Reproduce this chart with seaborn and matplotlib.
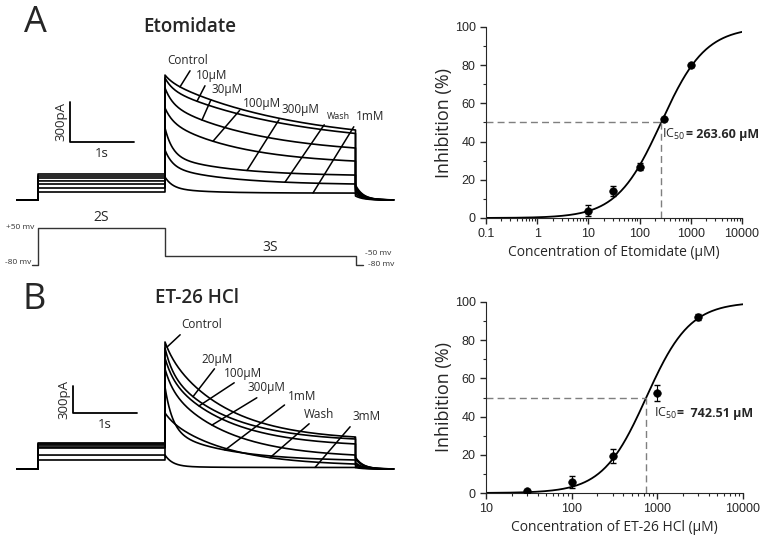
import numpy as np
import pandas as pd
import matplotlib
matplotlib.use("Agg")
import matplotlib.pyplot as plt
import seaborn as sns
from matplotlib.ticker import FixedLocator, FixedFormatter, NullFormatter, MultipleLocator, LogLocator

sns.set_style("ticks")
plt.rcParams['font.family'] = ['Open Sans', 'DejaVu Sans']
plt.rcParams['mathtext.default'] = 'regular'

# ---- patch-clamp sweeps (pA) ----
# A: etomidate
eto_labels = ["Control", "10µM", "30µM", "100µM", "300µM", "Wash", "1mM"]
eto_peak = [937, 915, 840, 690, 540, 375, 172]
eto_end = [525, 499, 390, 292, 187, 120, 52]
eto_fast = [0.10, 0.19, 0.26, 0.24, 0.59, 0.50, 0.70]
eto_tau = [2.0, 2.0, 1.5, 1.2, 1.0, 1.0, 0.6]
eto_pre = [195, 180, 165, 143, 120, 90, 60]
eto_tail = [112, 100, 90, 75, 60, 45, 30]

# B: ET-26 HCl
et26_labels = ["Control", "20µM", "100µM", "300µM", "1mM", "Wash", "3mM"]
et26_peak = [1410, 1343, 1232, 1110, 910, 622, 155]
et26_end = [355, 333, 278, 155, 100, 55, 17]
et26_fast = [0.10, 0.25, 0.20, 0.20, 0.60, 0.10, 0.90]
et26_tau = [0.95, 0.95, 0.95, 0.95, 0.95, 0.95, 0.5]
et26_pre = [289, 278, 266, 244, 233, 155, 100]
et26_tail = [130, 120, 110, 70, 50, 30, 15]

# voltage protocol
prot_t = [-0.1, 0, 2, 5, 5.12]
prot_mv = [-80, 50, -50, -80, -80]

# ---- dose response ----
eto_conc = [10, 30, 100, 300, 1000]
eto_inh = [3.8, 14.1, 26.9, 51.7, 79.9]
eto_err = [3.0, 2.5, 1.8, 0.8, 0.8]
eto_ic50 = 263.60
eto_hill = 1.0

et26_conc = [30, 100, 300, 1000, 3000]
et26_inh = [0.9, 5.8, 19.3, 52.5, 92.0]
et26_err = [0.5, 3.2, 3.5, 4.2, 1.5]
et26_ic50 = 742.51
et26_hill = 1.7

W, H = 765, 535
PX_S = 63.5  # pixels per second
T0 = 38      # pixel of t = 0
T_PULSE = 3.0
TAU_FAST = 0.12


def rect(x0, y0, x1, y1):
    return [x0 / W, 1 - y1 / H, (x1 - x0) / W, (y1 - y0) / H]


def norm_decay(t, tau):
    return (np.exp(-t / tau) - np.exp(-T_PULSE / tau)) / (1 - np.exp(-T_PULSE / tau))


def pulse_current(t, peak, end, fast, tau):
    return end + (peak - end) * (fast * norm_decay(t, TAU_FAST) + (1 - fast) * norm_decay(t, tau))


def sweep(peak, end, fast, tau, pre, tail):
    tp = np.linspace(0, T_PULSE, 300)
    tt = np.linspace(0, 0.6, 60)
    t = np.concatenate([[-0.33, 0.0, 0.0, 2.0], tp + 2, tt + 5])
    i = np.concatenate([[0, 0, pre, pre], pulse_current(tp, peak, end, fast, tau),
                        tail * np.exp(-tt / 0.12)])
    return t, i


fig = plt.figure(figsize=(7.65, 5.35), dpi=100)


def trace_panel(ax, labels, peak, end, fast, tau, pre, tail, base_px, pa_px,
                lab_px, pt_px, relp, small, bar_px):
    for k in range(len(labels)):
        t, i = sweep(peak[k], end[k], fast[k], tau[k], pre[k], tail[k])
        sns.lineplot(x=t, y=i, ax=ax, color="black", lw=1.2, estimator=None, sort=False)
    for k, lab in enumerate(labels):
        tx = (lab_px[k][0] - T0) / PX_S
        ty = (base_px - lab_px[k][1]) * pa_px
        tpt = (pt_px[k] - T0) / PX_S
        ipt = pulse_current(max(tpt - 2, 0.0), peak[k], end[k], fast[k], tau[k])
        ax.annotate(lab, xy=(tpt, ipt), xytext=(tx, ty), ha="center", va="center",
                    fontsize=6.5 if lab in small else 8.5,
                    arrowprops=dict(arrowstyle="-", lw=1.1, color="black",
                                    shrinkA=0, shrinkB=0, relpos=relp[k]))
    # scale bars
    bx = (bar_px[0] - T0) / PX_S
    by = (base_px - bar_px[1]) * pa_px
    ax.plot([bx, bx, bx + 1], [by + 300, by, by], color="black", lw=1.3)
    ax.text(bx - 0.04, by + 150, "300pA", rotation=90, ha="right", va="center", fontsize=9.5)
    ax.text(bx + 0.5, by - 35 * pa_px / 7.5, "1s", ha="center", va="top", fontsize=9.5)
    ax.set_xlim(-T0 / PX_S, (400 - T0) / PX_S)
    ax.axis("off")


# A traces
axA = fig.add_axes(rect(0, 40, 400, 215))
axA.set_ylim(-(215 - 200) * 7.5, (200 - 40) * 7.5)
trace_panel(axA, eto_labels, eto_peak, eto_end, eto_fast, eto_tau, eto_pre, eto_tail,
            200, 7.5,
            [(188, 61), (212, 76), (227, 90), (262, 104), (300, 110), (338, 117), (370, 117)],
            [180, 197, 202, 213, 247, 285, 313],
            [(0.6, 0), (0.33, 0), (0.03, 0), (0, 0.3), (0, 0), (0, 0), (0, 0)],
            ["Wash"], (70, 142))

# A protocol
axP = fig.add_axes(rect(0, 215, 400, 275))
sns.lineplot(x=prot_t, y=prot_mv, ax=axP, color="#333333", lw=1.0,
             drawstyle="steps-post", estimator=None, sort=False)
axP.set_xlim(-T0 / PX_S, (400 - T0) / PX_S)
axP.set_ylim(-80 - 10 * 130 / 37, -80 + 50 * 130 / 37)
axP.axis("off")
axP.text(-0.28, 50, "+50 mv", fontsize=6, ha="center", va="center", color="#333333")
axP.text(-0.31, -72, "-80 mv", fontsize=6, ha="center", va="center", color="#333333")
axP.text(1.0, 60, "2S", fontsize=10, ha="center", va="bottom")
axP.text(3.65, -20, "3S", fontsize=10, ha="center", va="center")
axP.text(5.36, -38, "-50 mv", fontsize=6, ha="center", va="center", color="#333333")
axP.text(5.4, -80, "-80 mv", fontsize=6, ha="center", va="center", color="#333333")

# B traces
axB = fig.add_axes(rect(0, 310, 400, 480))
axB.set_ylim(-(480 - 469) * 11.1, (469 - 310) * 11.1)
trace_panel(axB, et26_labels, et26_peak, et26_end, et26_fast, et26_tau, et26_pre, et26_tail,
            469, 11.1,
            [(202, 325), (217, 359), (243, 373), (266, 388), (302, 396), (319, 414), (367, 417)],
            [167, 193, 199, 212, 225, 270, 315],
            [(0.05, 0), (0.5, 0), (0.4, 0), (0.4, 0), (0, 0), (0.3, 0), (0, 0)],
            [], (73, 413))

fig.text(35 / W, 1 - 23 / H, "A", fontsize=26, ha="center", va="center")
fig.text(190 / W, 1 - 27 / H, "Etomidate", fontsize=13.5, weight="semibold", ha="center", va="center")
fig.text(34 / W, 1 - 300 / H, "B", fontsize=26, ha="center", va="center")
fig.text(197 / W, 1 - 298 / H, "ET-26 HCl", fontsize=13.5, weight="semibold", ha="center", va="center")


def dose_panel(ax, conc, inh, err, ic50, hill, xmin, xlabel, ic_text, txt_fac, txt_y, off):
    xs = np.logspace(np.log10(xmin), 4, 300)
    fit = 100 / (1 + (ic50 / xs) ** hill)
    sns.lineplot(x=xs, y=fit, ax=ax, color="black", lw=1.3, estimator=None)
    ax.errorbar(conc, inh, yerr=err, fmt="none", ecolor="black", elinewidth=0.8, capsize=2)
    sns.scatterplot(x=conc, y=inh, ax=ax, color="black", s=30, edgecolor="black", zorder=3)
    ax.hlines(50, xmin, ic50, colors="#7f7f7f", linestyles=(0, (5, 3)), lw=1)
    ax.vlines(ic50, 0, 50, colors="#7f7f7f", linestyles=(0, (5, 3)), lw=1)
    ax.set_xscale("log")
    ax.set_xlim(xmin, 10000)
    ax.set_ylim(0, 100)
    majors = [v for v in [0.1, 1, 10, 100, 1000, 10000] if v >= xmin]
    ax.xaxis.set_major_locator(FixedLocator(majors))
    ax.xaxis.set_major_formatter(FixedFormatter([f"{v:g}" for v in majors]))
    ax.xaxis.set_minor_locator(LogLocator(base=10, subs=np.arange(2, 10)))
    ax.xaxis.set_minor_formatter(NullFormatter())
    ax.yaxis.set_major_locator(MultipleLocator(20))
    ax.yaxis.set_minor_locator(MultipleLocator(10))
    ax.tick_params(which="major", length=4, width=1, labelsize=9,
                   labelfontfamily="Liberation Sans")
    ax.tick_params(which="minor", length=2, width=0.8)
    ax.set_xlabel(xlabel, fontsize=10, labelpad=3)
    ax.set_ylabel("Inhibition (%)", fontsize=13, labelpad=1)
    sns.despine(ax=ax)
    ax.text(ic50 * txt_fac, txt_y, "IC$_{50}$", fontsize=9, va="baseline", ha="left")
    ax.annotate(ic_text, xy=(ic50 * txt_fac, txt_y), xytext=(off, 0), textcoords="offset points",
                fontsize=9, weight="bold", va="baseline", ha="left", annotation_clip=False)


ax1 = fig.add_axes(rect(486, 27, 742, 218))
dose_panel(ax1, eto_conc, eto_inh, eto_err, eto_ic50, eto_hill, 0.1,
           "Concentration of Etomidate (µM)", "= 263.60 µM", 1.06, 42, 17)

ax2 = fig.add_axes(rect(486, 302, 743, 493))
dose_panel(ax2, et26_conc, et26_inh, et26_err, et26_ic50, et26_hill, 10,
           "Concentration of ET-26 HCl (µM)", "=  742.51 µM", 1.22, 40, 17)

fig.savefig("out.png", dpi=100)
